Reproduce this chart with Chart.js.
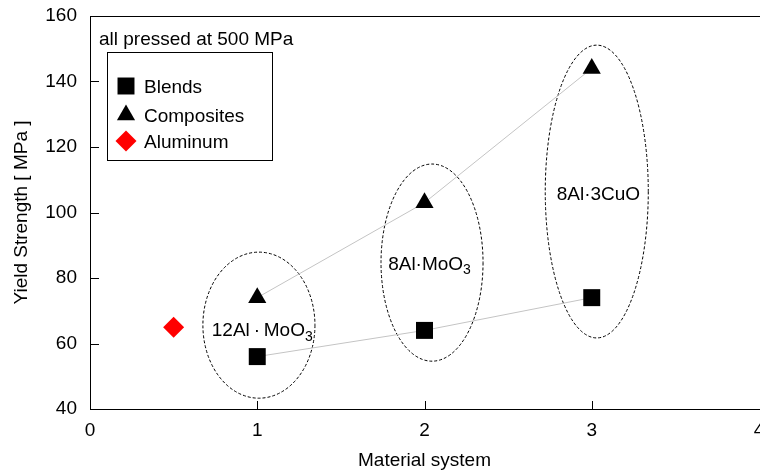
<!DOCTYPE html>
<html>
<head>
<meta charset="utf-8">
<script src="https://cdn.jsdelivr.net/npm/chart.js@4/dist/chart.umd.min.js"></script>
<style>
  html, body { margin: 0; padding: 0; background: #fff; }
  canvas { display: block; }
</style>
</head>
<body>
<canvas id="c" width="760" height="470"></canvas>
<script>
// Material systems on the x axis (1 = 12Al·MoO3, 2 = 8Al·MoO3, 3 = 8Al·3CuO)
const systems = [1, 2, 3];
// Yield strength [MPa]
const blends = [56, 64, 74];
const composites = [74, 103, 144];
const aluminumX = [0.5];
const aluminum = [65];

const xTicks = [0, 1, 2, 3, 4];
const yTicks = [40, 60, 80, 100, 120, 140, 160];

// Group labels and the dashed ellipses around each material system (data units)
const groupNames = [['12Al\u2009·\u2009MoO', '3'], ['8Al·MoO', '3'], ['8Al·3CuO', '']];
const groupLabelX = [1.03, 2.03, 3.04];
const groupLabelY = [63.8, 84.1, 105.3];
const ellipseCx = [1.01, 2.045, 3.03];
const ellipseCy = [65.6, 84.7, 106.4];
const ellipseRx = [0.335, 0.305, 0.308];
const ellipseRy = [22.3, 30.1, 44.7];

const FONT = '"Liberation Sans", Arial, Helvetica, sans-serif';

const toPoints = (xs, ys) => xs.map((x, i) => ({ x, y: ys[i] }));

const decorations = {
  id: 'decorations',
  beforeDatasetsDraw(chart) {
    const { ctx, chartArea: a, scales: { x, y } } = chart;
    ctx.save();
    ctx.strokeStyle = '#000';
    ctx.lineWidth = 1;
    // frame top line
    ctx.beginPath();
    ctx.moveTo(a.left, Math.round(a.top) + 0.5);
    ctx.lineTo(chart.width, Math.round(a.top) + 0.5);
    ctx.stroke();
    // inward tick marks
    ctx.beginPath();
    yTicks.slice(1, -1).forEach(v => {
      const py = Math.round(y.getPixelForValue(v)) + 0.5;
      ctx.moveTo(a.left, py);
      ctx.lineTo(a.left + 9, py);
    });
    xTicks.slice(1, -1).forEach(v => {
      const px = Math.round(x.getPixelForValue(v)) + 0.5;
      ctx.moveTo(px, a.bottom);
      ctx.lineTo(px, a.bottom - 8);
    });
    ctx.stroke();

    // dashed ellipses
    ctx.setLineDash([3, 2]);
    ctx.lineWidth = 1;
    ellipseCx.forEach((cx, i) => {
      const px = x.getPixelForValue(cx);
      const py = y.getPixelForValue(ellipseCy[i]);
      const rx = Math.abs(x.getPixelForValue(cx + ellipseRx[i]) - px);
      const ry = Math.abs(y.getPixelForValue(ellipseCy[i] + ellipseRy[i]) - py);
      ctx.beginPath();
      ctx.ellipse(px, py, rx, ry, 0, 0, Math.PI * 2);
      ctx.stroke();
    });
    ctx.setLineDash([]);

    // group labels with subscripts
    ctx.fillStyle = '#000';
    ctx.textBaseline = 'middle';
    ctx.textAlign = 'left';
    groupNames.forEach((parts, i) => {
      ctx.font = '19px ' + FONT;
      const w1 = ctx.measureText(parts[0]).width;
      ctx.font = '14px ' + FONT;
      const w2 = parts[1] ? ctx.measureText(parts[1]).width : 0;
      const cx = x.getPixelForValue(groupLabelX[i]);
      const cy = y.getPixelForValue(groupLabelY[i]);
      const left = cx - (w1 + w2) / 2;
      ctx.font = '19px ' + FONT;
      ctx.fillText(parts[0], left, cy);
      if (parts[1]) {
        ctx.font = '14px ' + FONT;
        ctx.fillText(parts[1], left + w1, cy + 6);
      }
    });
    ctx.restore();
  },
  afterDraw(chart) {
    const { ctx, chartArea: a } = chart;
    ctx.save();
    ctx.fillStyle = '#000';
    ctx.font = '19px ' + FONT;
    ctx.textBaseline = 'middle';
    ctx.textAlign = 'left';
    ctx.fillText('all pressed at 500 MPa', a.left + 9, a.top + 24);

    // legend box
    const bx = Math.round(a.left + 17) + 0.5, by = Math.round(a.top + 36) + 0.5;
    ctx.strokeStyle = '#000';
    ctx.lineWidth = 1;
    ctx.strokeRect(bx, by, 165, 108);

    chart.data.datasets.forEach((ds, i) => {
      const rowY = a.top + [70, 99, 125][i];
      const mx = a.left + 36;
      ctx.fillStyle = ds.pointBackgroundColor;
      Chart.helpers.drawPoint(ctx, {
        pointStyle: ds.pointStyle, radius: ds.pointRadius, rotation: 0, borderWidth: 0
      }, mx, rowY);
      ctx.fillStyle = '#000';
      ctx.fillText(ds.label, a.left + 54, rowY + 2);
    });
    ctx.restore();
  }
};

new Chart(document.getElementById('c'), {
  type: 'scatter',
  data: {
    datasets: [
      {
        label: 'Blends',
        data: toPoints(systems, blends),
        showLine: true,
        borderColor: '#c4c4c4',
        borderWidth: 1,
        pointStyle: 'rect',
        pointRadius: 12,
        pointBackgroundColor: '#000',
        pointBorderColor: '#000',
        pointBorderWidth: 0
      },
      {
        label: 'Composites',
        data: toPoints(systems, composites),
        showLine: true,
        borderColor: '#c4c4c4',
        borderWidth: 1,
        pointStyle: 'triangle',
        pointRadius: 10.5,
        pointBackgroundColor: '#000',
        pointBorderColor: '#000',
        pointBorderWidth: 0
      },
      {
        label: 'Aluminum',
        data: toPoints(aluminumX, aluminum),
        showLine: false,
        pointStyle: 'rectRot',
        pointRadius: 10.5,
        pointBackgroundColor: '#ff0000',
        pointBorderColor: '#ff0000',
        pointBorderWidth: 0
      }
    ]
  },
  options: {
    responsive: false,
    animation: false,
    devicePixelRatio: 1,
    layout: { autoPadding: false, padding: { left: 0, right: 1, top: 16, bottom: 0 } },
    plugins: { legend: { display: false }, tooltip: { enabled: false } },
    scales: {
      x: {
        type: 'linear',
        min: 0, max: 4,
        afterBuildTicks: s => { s.ticks = xTicks.map(v => ({ value: v })); },
        afterFit: s => { s.height = 61; s.paddingLeft = 0; s.paddingRight = 0; },
        grid: { display: false, drawTicks: false },
        border: { display: true, color: '#000', width: 1 },
        ticks: { color: '#000', padding: 10, font: { family: FONT, size: 19 } },
        title: {
          display: true, text: 'Material system', color: '#000',
          font: { family: FONT, size: 19, lineHeight: 1 }, padding: { top: 0, bottom: 0 }
        }
      },
      y: {
        type: 'linear',
        min: 40, max: 160,
        afterBuildTicks: s => { s.ticks = yTicks.map(v => ({ value: v })); },
        afterFit: s => { s.width = 90; s.paddingTop = 0; s.paddingBottom = 0; },
        grid: { display: false, drawTicks: false },
        border: { display: true, color: '#000', width: 1 },
        ticks: { color: '#000', padding: 13, font: { family: FONT, size: 19 } },
        title: {
          display: true, text: 'Yield Strength [ MPa ]', color: '#000',
          font: { family: FONT, size: 19, lineHeight: 1 }, padding: { top: 12.5, bottom: 0 }
        }
      }
    }
  },
  plugins: [decorations]
});
</script>
</body>
</html>
